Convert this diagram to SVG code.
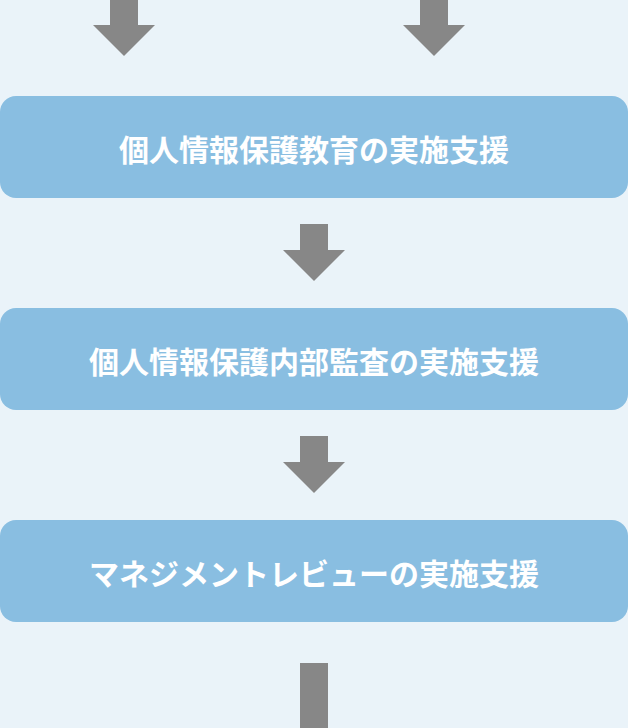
<svg xmlns="http://www.w3.org/2000/svg" width="628" height="728" viewBox="0 0 628 728">
<style>
.box{fill:#89bee1}
.lbl{font-family:"Noto Sans CJK JP","Noto Sans",sans-serif;font-weight:bold;font-size:30px;fill:#ffffff;text-anchor:middle;dominant-baseline:central}
.arr{fill:#878787}
</style>
<rect width="628" height="728" fill="#eaf3f9"/>
<g id="connectors">
<path class="arr" d="M110,0 H138 V25 H155 L124,56 L93,25 H110 Z"/>
<path class="arr" d="M420,0 H448 V25 H465 L434,56 L403,25 H420 Z"/>
<path class="arr" d="M300,224 H328 V250 H345 L314,281 L283,250 H300 Z"/>
<path class="arr" d="M300,436 H328 V462 H345 L314,493 L283,462 H300 Z"/>
<rect class="arr" x="300" y="663" width="28" height="65"/>
</g>
<g id="node1">
<rect class="box" x="0" y="96" width="628" height="102" rx="16"/>
<text class="lbl" x="314" y="148">個人情報保護教育の実施支援</text>
</g>
<g id="node2">
<rect class="box" x="0" y="308" width="628" height="102" rx="16"/>
<text class="lbl" x="314" y="360">個人情報保護内部監査の実施支援</text>
</g>
<g id="node3">
<rect class="box" x="0" y="520" width="628" height="102" rx="16"/>
<text class="lbl" x="314" y="572">マネジメントレビューの実施支援</text>
</g>
</svg>
